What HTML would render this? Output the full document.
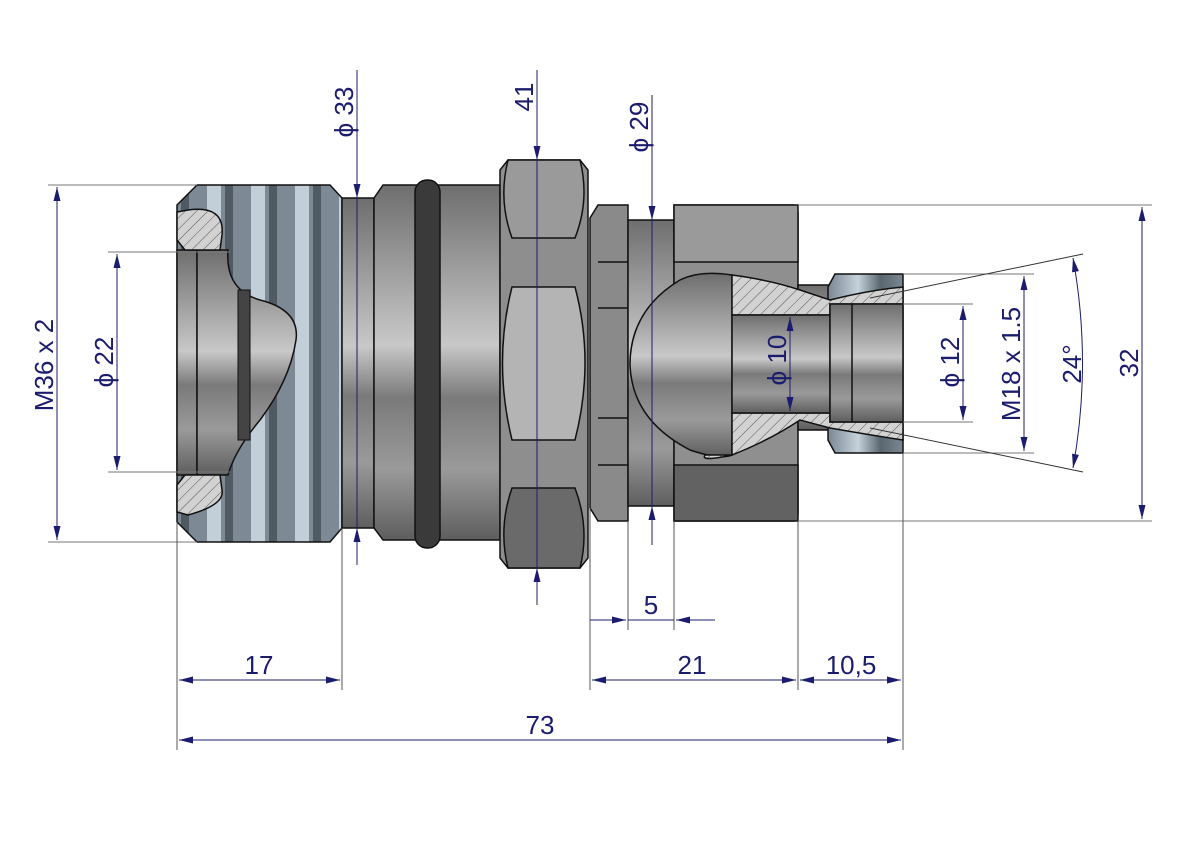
<!DOCTYPE html>
<html><head><meta charset="utf-8"><style>
html,body{margin:0;padding:0;background:#fff}
svg{display:block}
text{font-family:"Liberation Sans",sans-serif;font-size:26px;fill:#1c1c6e}
</style></head><body>
<svg width="1191" height="842" viewBox="0 0 1191 842" xmlns="http://www.w3.org/2000/svg">
<defs>
<linearGradient id="cyl" x1="0" y1="0" x2="0" y2="1">
<stop offset="0" stop-color="#6e6e6e"/><stop offset="0.25" stop-color="#a0a0a0"/><stop offset="0.45" stop-color="#c8c8c8"/><stop offset="0.6" stop-color="#7a7a7a"/><stop offset="0.8" stop-color="#9a9a9a"/><stop offset="1" stop-color="#5e5e5e"/>
</linearGradient>
<linearGradient id="thr" x1="0" y1="0" x2="1" y2="0" spreadMethod="repeat">
<stop offset="0" stop-color="#7b8792"/><stop offset="0.4" stop-color="#c5d2dc"/><stop offset="0.7" stop-color="#596670"/><stop offset="1" stop-color="#7b8792"/>
</linearGradient>
<pattern id="thrp" width="44" height="10" patternUnits="userSpaceOnUse" x="197">
<rect width="44" height="10" fill="#7d8994"/><rect x="10" width="14" height="10" fill="#c2cfd9"/><rect x="28" width="8" height="10" fill="#4f5a63"/>
</pattern>
<pattern id="hatch" width="8" height="8" patternUnits="userSpaceOnUse" patternTransform="rotate(45)">
<rect width="8" height="8" fill="#d2d2d2"/><line x1="0" y1="0" x2="0" y2="8" stroke="#555" stroke-width="1"/>
</pattern>
<marker id="ar" viewBox="0 0 14 10" refX="14" refY="5" markerWidth="14" markerHeight="10" orient="auto-start-reverse" markerUnits="userSpaceOnUse"><path d="M0,1.5 L14,5 L0,8.5 z" fill="#1c1c6e"/></marker>
</defs>

<g stroke="#111" stroke-width="1.5">
<path d="M177,205 L197,185 L330,185 L342,198 L342,528 L330,542 L197,542 L177,522 Z" fill="url(#thrp)"/>
<rect x="177" y="250" width="20" height="225" fill="url(#cyl)"/>
<path d="M197,250 L228,250 Q225,290 260,300 Q300,310 296,340 Q290,380 260,420 Q235,450 228,475 L197,475 Z" fill="url(#cyl)"/>
<rect x="238" y="290" width="12" height="150" fill="#444" stroke-width="1"/>
<path d="M177,212 L188,210 Q225,205 222,235 L220,250 L185,250 L177,240 Z" fill="url(#hatch)"/>
<path d="M177,512 L188,515 Q225,505 222,490 L220,475 L185,475 L177,485 Z" fill="url(#hatch)"/>
<rect x="342" y="198" width="32" height="330" fill="url(#cyl)"/>
<path d="M374,198 L383,185 L500,185 L500,540 L383,540 L374,528 Z" fill="url(#cyl)"/>
<rect x="415" y="180" width="25" height="368" rx="12" fill="#3a3a3a"/>
<path d="M500,170 L508,160 L580,160 L588,170 L588,558 L580,568 L508,568 L500,558 Z" fill="#8e8e8e"/>
<path d="M508,160 L580,160 Q590,200 575,238 L512,238 Q498,200 508,160 Z" fill="#9a9a9a"/>
<path d="M512,287 L575,287 Q595,362 575,440 L512,440 Q493,362 512,287 Z" fill="#b4b4b4"/>
<path d="M512,488 L575,488 Q590,528 580,568 L508,568 Q498,528 512,488 Z" fill="#6a6a6a"/>
<path d="M590,218 L598,205 L628,205 L628,521 L598,521 L590,508 Z" fill="#8a8a8a"/>
<line x1="598" y1="262" x2="628" y2="262"/><line x1="598" y1="308" x2="628" y2="308"/><line x1="598" y1="418" x2="628" y2="418"/><line x1="598" y1="465" x2="628" y2="465"/>
<rect x="628" y="220" width="46" height="286" fill="url(#cyl)"/>
<path d="M674,205 L794,205 L798,212 L798,514 L794,521 L674,521 Z" fill="#8f8f8f"/>
<rect x="674" y="205" width="124" height="57" fill="#9a9a9a"/>
<rect x="674" y="465" width="124" height="56" fill="#626262"/>
<rect x="798" y="285" width="35" height="145" fill="url(#cyl)"/>
<path d="M835,274 L903,274 L903,453 L835,453 L828,440 L828,287 Z" fill="url(#thr)"/>
<path d="M732,275 Q700,270 680,280 Q630,310 630,365 Q632,420 690,450 Q720,460 732,455 Z" fill="url(#cyl)"/>
<path d="M732,275 Q770,280 800,290 L830,300 Q870,290 903,287 L903,304 L830,304 L830,315 L732,315 Z" fill="url(#hatch)"/>
<path d="M732,455 Q700,462 705,455 L732,455 L732,413 L830,413 L830,422 L903,422 L903,440 Q870,435 830,428 L800,420 Q770,440 732,455 Z" fill="url(#hatch)"/>
<rect x="732" y="315" width="98" height="98" fill="url(#cyl)"/>
<rect x="830" y="304" width="73" height="118" fill="url(#cyl)"/>
<line x1="852" y1="304" x2="852" y2="422"/>
</g>

<g stroke="#1c1c6e" stroke-width="1" fill="none">
<line x1="48" y1="185" x2="197" y2="185" stroke="#777"/><line x1="48" y1="542" x2="197" y2="542" stroke="#777"/>
<line x1="57" y1="187" x2="57" y2="540" marker-start="url(#ar)" marker-end="url(#ar)"/>
<line x1="108" y1="252" x2="230" y2="252" stroke="#777"/><line x1="108" y1="472" x2="230" y2="472" stroke="#777"/>
<line x1="117" y1="254" x2="117" y2="470" marker-start="url(#ar)" marker-end="url(#ar)"/>
<line x1="357" y1="70" x2="357" y2="198" marker-end="url(#ar)"/><line x1="357" y1="198" x2="357" y2="528"/><line x1="357" y1="565" x2="357" y2="528" marker-end="url(#ar)"/>
<line x1="537" y1="70" x2="537" y2="160" marker-end="url(#ar)"/><line x1="537" y1="160" x2="537" y2="568"/><line x1="537" y1="605" x2="537" y2="568" marker-end="url(#ar)"/>
<line x1="652" y1="95" x2="652" y2="220" marker-end="url(#ar)"/><line x1="652" y1="220" x2="652" y2="506"/><line x1="652" y1="545" x2="652" y2="506" marker-end="url(#ar)"/>
<line x1="798" y1="205" x2="1152" y2="205" stroke="#777"/><line x1="798" y1="521" x2="1152" y2="521" stroke="#777"/>
<line x1="1142" y1="207" x2="1142" y2="519" marker-start="url(#ar)" marker-end="url(#ar)"/>
<line x1="903" y1="274" x2="1034" y2="274" stroke="#777"/><line x1="903" y1="453" x2="1034" y2="453" stroke="#777"/>
<line x1="1024" y1="276" x2="1024" y2="451" marker-start="url(#ar)" marker-end="url(#ar)"/>
<line x1="903" y1="304" x2="973" y2="304" stroke="#777"/><line x1="903" y1="422" x2="973" y2="422" stroke="#777"/>
<line x1="963" y1="306" x2="963" y2="420" marker-start="url(#ar)" marker-end="url(#ar)"/>
<line x1="870" y1="298" x2="1083" y2="254" stroke="#333"/><line x1="870" y1="428" x2="1083" y2="472" stroke="#333"/>
<path d="M1073,258 Q1092,363 1073,468" marker-start="url(#ar)" marker-end="url(#ar)"/>
<line x1="790" y1="317" x2="790" y2="411" marker-start="url(#ar)" marker-end="url(#ar)"/>
<line x1="177" y1="522" x2="177" y2="750" stroke="#555"/>
<line x1="342" y1="528" x2="342" y2="690" stroke="#555"/>
<line x1="590" y1="508" x2="590" y2="690" stroke="#555"/>
<line x1="628" y1="521" x2="628" y2="630" stroke="#555"/>
<line x1="674" y1="521" x2="674" y2="630" stroke="#555"/>
<line x1="798" y1="521" x2="798" y2="690" stroke="#555"/>
<line x1="903" y1="453" x2="903" y2="750" stroke="#555"/>
<line x1="179" y1="680" x2="340" y2="680" marker-start="url(#ar)" marker-end="url(#ar)"/>
<line x1="592" y1="680" x2="796" y2="680" marker-start="url(#ar)" marker-end="url(#ar)"/>
<line x1="800" y1="680" x2="901" y2="680" marker-start="url(#ar)" marker-end="url(#ar)"/>
<line x1="179" y1="740" x2="901" y2="740" marker-start="url(#ar)" marker-end="url(#ar)"/>
<line x1="590" y1="620" x2="626" y2="620" marker-end="url(#ar)"/>
<line x1="715" y1="620" x2="676" y2="620" marker-end="url(#ar)"/>
<line x1="628" y1="620" x2="674" y2="620"/>
</g>

<g>
<text transform="translate(53,365) rotate(-90)" text-anchor="middle">M36 x 2</text>
<text transform="translate(113,362) rotate(-90)" text-anchor="middle">ϕ 22</text>
<text transform="translate(353,112) rotate(-90)" text-anchor="middle">ϕ 33</text>
<text transform="translate(533,97) rotate(-90)" text-anchor="middle">41</text>
<text transform="translate(648,127) rotate(-90)" text-anchor="middle">ϕ 29</text>
<text transform="translate(786,360) rotate(-90)" text-anchor="middle">ϕ 10</text>
<text transform="translate(959,362) rotate(-90)" text-anchor="middle">ϕ 12</text>
<text transform="translate(1020,364) rotate(-90)" text-anchor="middle">M18 x 1.5</text>
<text transform="translate(1081,364) rotate(-90)" text-anchor="middle">24°</text>
<text transform="translate(1138,363) rotate(-90)" text-anchor="middle">32</text>
<text x="259" y="674" text-anchor="middle">17</text>
<text x="692" y="674" text-anchor="middle">21</text>
<text x="851" y="674" text-anchor="middle">10,5</text>
<text x="540" y="734" text-anchor="middle">73</text>
<text x="651" y="614" text-anchor="middle">5</text>
</g>
</svg>
</body></html>
